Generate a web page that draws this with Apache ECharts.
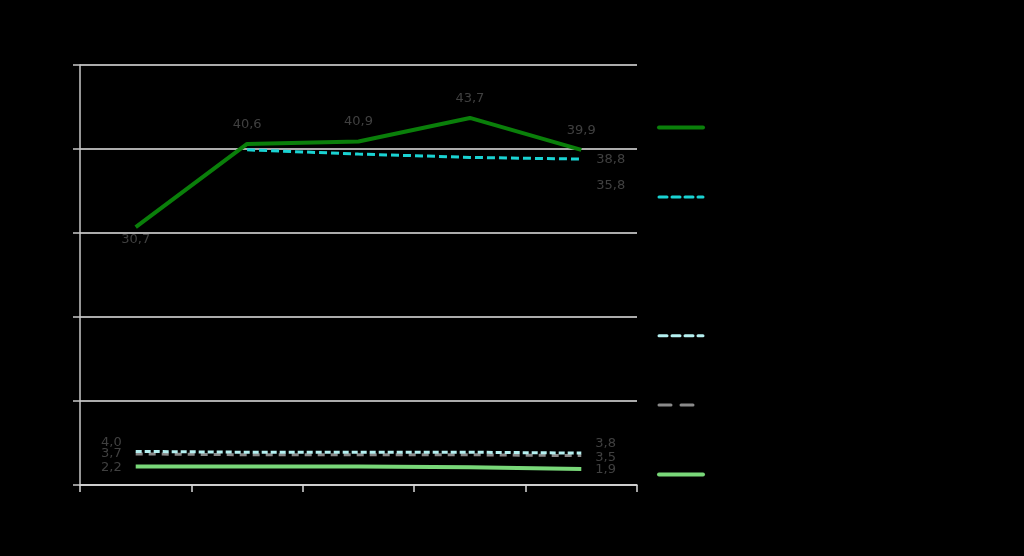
<!DOCTYPE html>
<html><head><meta charset="utf-8">
<script src="https://cdn.jsdelivr.net/npm/echarts@6/dist/echarts.min.js"></script>
<style>html,body{margin:0;padding:0;background:#000;}#c{width:1024px;height:556px;}</style>
</head><body><div id="c"></div>
<script>
const categories = ['2019', '2020', '2021', '2022', '2023'];
const seriesNames = ['Série 1', 'Série 2', 'Série 3', 'Série 4', 'Série 5', 'Série 6'];
const s1 = [30.7, 40.6, 40.9, 43.7, 39.9];
const s2 = [null, 39.9, 39.4, 39.0, 38.8];
const s3 = [35.8, 35.5, 35.6, 35.7, 35.8];
const s4 = [4.0, 3.9, 3.9, 3.9, 3.8];
const s5 = [3.7, 3.6, 3.6, 3.6, 3.5];
const s6 = [2.2, 2.2, 2.2, 2.1, 1.9];
const yTicks = [0, 10, 20, 30, 40, 50];

const labelColor = '#404040';
const fmt = p => p.value.toFixed(1).replace('.', ',');
function withLabels(arr, cfg) {
  return arr.map((v, i) => {
    const c = cfg[i];
    if (v === null) return null;
    if (!c) return { value: v };
    return { value: v, label: Object.assign({ show: true, color: labelColor, fontSize: 13, fontFamily: 'DejaVu Sans', formatter: fmt }, c) };
  });
}
const last = categories.length - 1;
const chart = echarts.init(document.getElementById('c'));
const base = { type: 'line', symbol: 'circle', symbolSize: 0, showSymbol: true, smooth: false };
const styles = [
  { color: '#0a7f0a', width: 4, type: 'solid' },
  { color: '#1ad3d3', width: 3, type: [8, 4] },
  { color: '#000000', width: 3, type: 'solid' },
  { color: '#b5f0f0', width: 3, type: [6, 3] },
  { color: '#8a8a8a', width: 3, type: [7, 6] },
  { color: '#79d879', width: 4, type: 'solid' }
];
const legendDash = ['solid', [8, 5], 'solid', [8, 5], [12, 10], 'solid'];
chart.setOption({
  backgroundColor: '#000',
  animation: false,
  grid: { left: 80, right: 387, top: 65, bottom: 71 },
  legend: {
    orient: 'vertical', left: 652, top: 116, itemWidth: 44, itemHeight: 14, itemGap: 56.4,
    textStyle: { color: '#000', fontSize: 13 },
    itemStyle: { opacity: 0 },
    data: seriesNames.map((n, i) => ({ name: n, lineStyle: { color: styles[i].color, width: styles[i].width, type: legendDash[i], cap: 'round' } }))
  },
  xAxis: {
    type: 'category', data: categories, boundaryGap: true,
    axisLine: { lineStyle: { color: '#d9d9d9', width: 1.5 } },
    axisTick: { show: true, length: 7, lineStyle: { color: '#d9d9d9', width: 1.5 } },
    axisLabel: { color: '#000' }
  },
  yAxis: {
    type: 'value', min: yTicks[0], max: yTicks[yTicks.length - 1], interval: 10,
    axisLine: { show: true, lineStyle: { color: '#c8c8c8', width: 1.5 } },
    axisTick: { show: true, length: 7, lineStyle: { color: '#c8c8c8', width: 1.5 } },
    axisLabel: { color: '#000' },
    splitLine: { lineStyle: { color: '#e6e6e6', width: 1.5 } }
  },
  series: [
    Object.assign({}, base, { name: seriesNames[2], z: 1, lineStyle: styles[2], itemStyle: { color: styles[2].color },
      data: withLabels(s3, { [last]: { position: 'right', distance: 15, offset: [0, 1] } }) }),
    Object.assign({}, base, { name: seriesNames[0], z: 3, lineStyle: styles[0], itemStyle: { color: styles[0].color },
      data: withLabels(s1, { 0: { position: 'bottom', distance: 6 }, 1: { position: 'top', distance: 13 }, 2: { position: 'top', distance: 13 }, 3: { position: 'top', distance: 13 }, 4: { position: 'top', distance: 13 } }) }),
    Object.assign({}, base, { name: seriesNames[1], z: 2, lineStyle: styles[1], itemStyle: { color: styles[1].color },
      data: withLabels(s2, { [last]: { position: 'right', distance: 15, offset: [0, 1] } }) }),
    Object.assign({}, base, { name: seriesNames[3], z: 3, lineStyle: styles[3], itemStyle: { color: styles[3].color },
      data: withLabels(s4, { 0: { position: 'left', distance: 14, offset: [0, -9] }, [last]: { position: 'right', distance: 14, offset: [0, -9] } }) }),
    Object.assign({}, base, { name: seriesNames[4], z: 2, lineStyle: styles[4], itemStyle: { color: styles[4].color },
      data: withLabels(s5, { 0: { position: 'left', distance: 14, offset: [0, 0] }, [last]: { position: 'right', distance: 14, offset: [0, 2] } }) }),
    Object.assign({}, base, { name: seriesNames[5], z: 3, lineStyle: styles[5], itemStyle: { color: styles[5].color },
      data: withLabels(s6, { 0: { position: 'left', distance: 14, offset: [0, 1] }, [last]: { position: 'right', distance: 14, offset: [0, 1] } }) })
  ]
});
</script></body></html>
